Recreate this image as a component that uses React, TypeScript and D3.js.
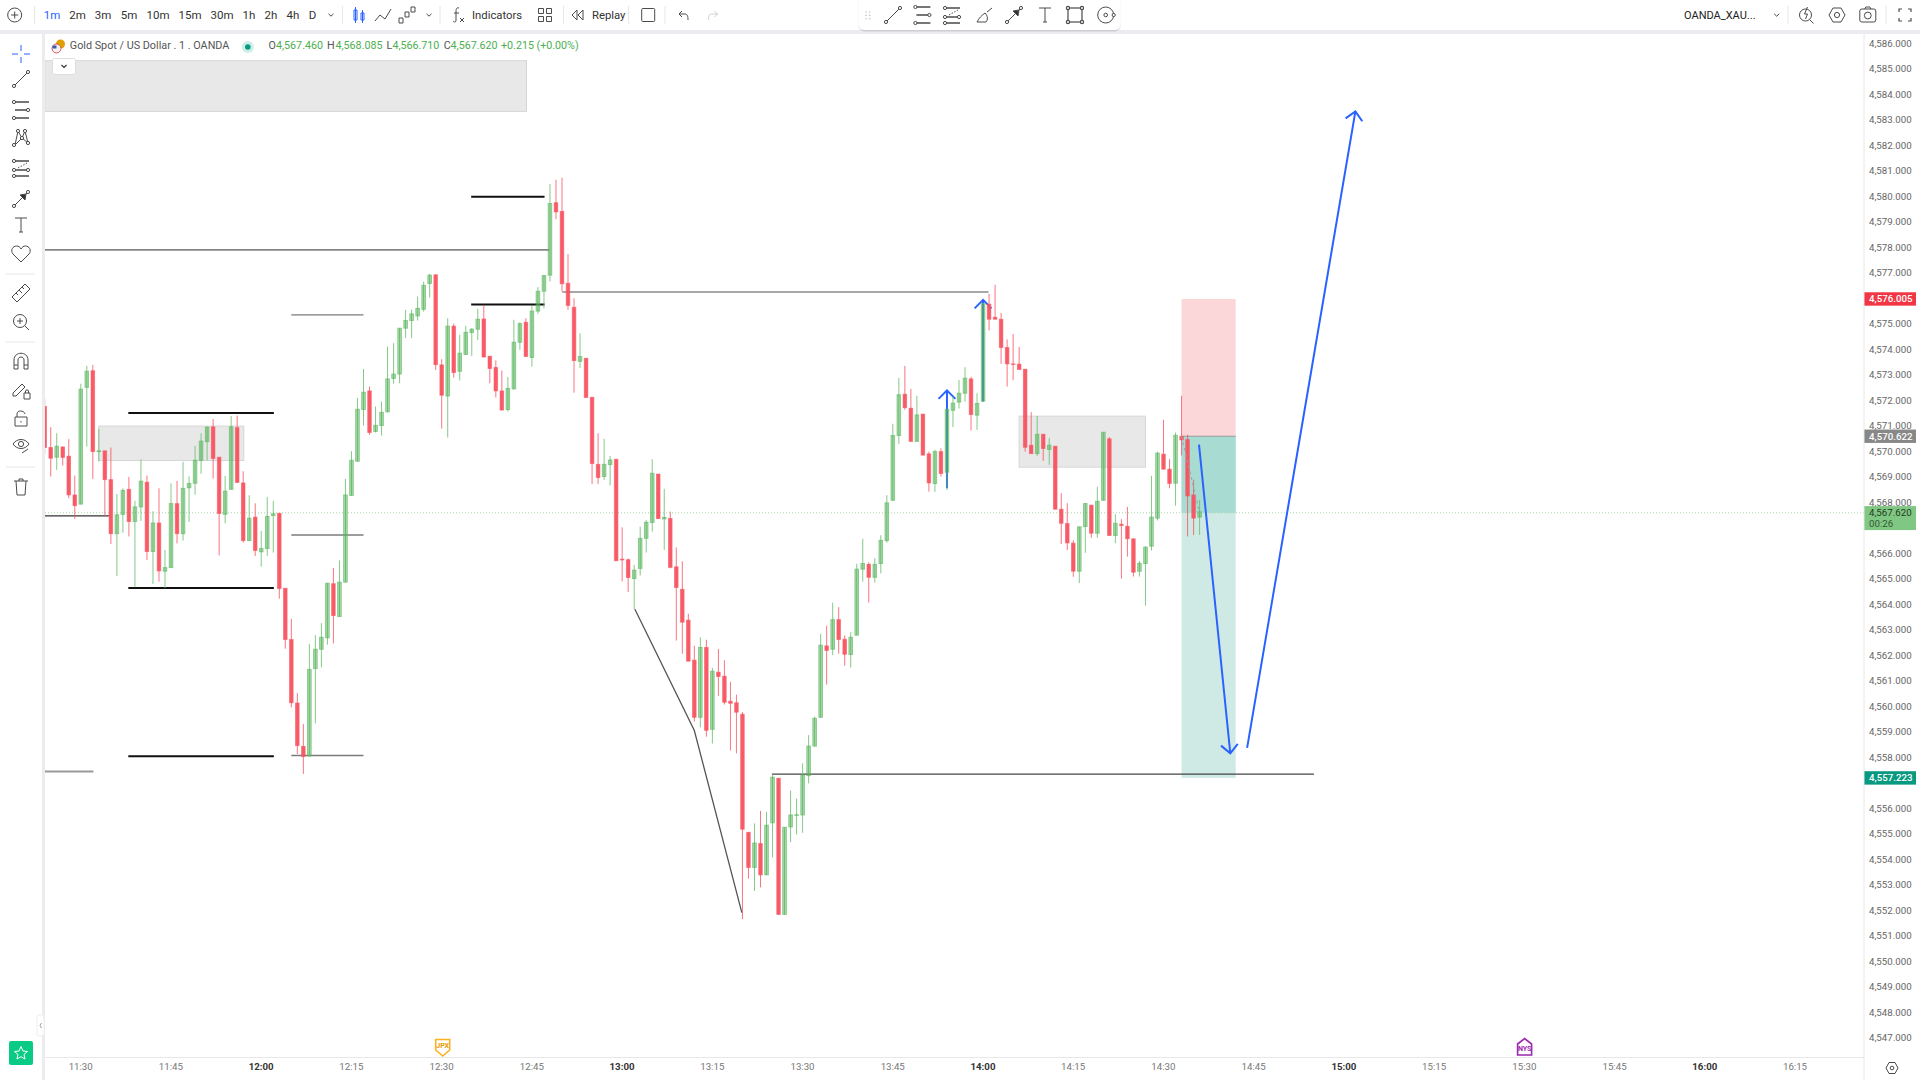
import React, { useEffect, useRef } from 'react';
import * as d3 from 'd3';

const WIDTH = 1920;
const HEIGHT = 1080;

// candles are one minute each, the first one is 11:24
const START_MINUTE = 11 * 60 + 24;

const opens = [
  4571.75, 4570.14, 4569.76, 4570.16, 4569.80, 4568.28, 4567.92, 4572.50, 4573.15, 4569.98,
  4570.01, 4568.88, 4566.76, 4567.52, 4568.50, 4567.24, 4567.81, 4568.78, 4566.06, 4567.18,
  4565.29, 4565.43, 4567.94, 4566.76, 4568.56, 4568.74, 4569.63, 4570.37, 4570.95, 4569.76,
  4567.52, 4568.50, 4570.92, 4568.75, 4566.49, 4567.41, 4566.05, 4566.18, 4567.47, 4567.56,
  4564.62, 4562.61, 4560.12, 4558.42, 4558.04, 4561.47, 4562.23, 4562.68, 4564.80, 4563.51,
  4564.86, 4568.26, 4569.60, 4571.63, 4572.36, 4570.77, 4571.00, 4571.54, 4572.85, 4573.02,
  4574.82, 4575.12, 4575.30, 4575.56, 4576.57, 4576.91, 4573.38, 4572.16, 4574.90, 4573.13,
  4573.79, 4574.65, 4574.78, 4575.18, 4573.72, 4573.28, 4572.36, 4571.63, 4572.44, 4574.27,
  4575.05, 4573.67, 4575.49, 4576.27, 4576.90, 4579.74, 4579.40, 4576.58, 4575.64, 4573.52,
  4573.64, 4572.11, 4569.48, 4569.00, 4569.47, 4569.68, 4565.76, 4565.74, 4565.00, 4565.40,
  4566.58, 4567.20, 4569.10, 4567.34, 4567.36, 4565.46, 4564.58, 4563.37, 4561.80, 4559.56,
  4562.30, 4559.09, 4561.33, 4561.17, 4560.19, 4560.13, 4559.68, 4555.05, 4553.67, 4554.61,
  4553.38, 4555.42, 4557.17, 4551.83, 4555.26, 4555.72, 4555.73, 4557.27, 4558.43, 4559.56,
  4562.36, 4562.23, 4563.39, 4562.62, 4562.02, 4562.78, 4565.37, 4565.56, 4565.05, 4565.59,
  4566.49, 4568.07, 4570.61, 4572.23, 4571.68, 4570.38, 4571.45, 4569.89, 4568.73, 4569.98,
  4569.17, 4571.60, 4571.92, 4572.27, 4572.83, 4571.41, 4571.96, 4575.76, 4575.25, 4575.17,
  4574.06, 4573.42, 4573.41, 4573.21, 4570.23, 4569.90, 4570.66, 4570.06, 4570.19, 4567.72,
  4567.16, 4566.39, 4565.29, 4567.04, 4567.88, 4566.78, 4568.07, 4570.48, 4566.69, 4567.13,
  4567.05, 4566.56, 4565.29, 4565.59, 4566.27, 4567.37, 4569.88, 4569.29, 4568.74, 4570.58,
  4570.45, 4568.28, 4567.41,
];

const highs = [
  4572.05, 4570.94, 4570.70, 4570.19, 4570.47, 4569.04, 4572.64, 4573.34, 4573.38, 4570.87,
  4570.01, 4570.14, 4568.32, 4568.54, 4568.99, 4568.05, 4569.68, 4569.04, 4567.64, 4568.54,
  4566.12, 4568.74, 4568.83, 4569.58, 4569.01, 4570.20, 4570.70, 4570.96, 4571.26, 4569.76,
  4569.03, 4571.38, 4571.39, 4569.21, 4568.27, 4567.95, 4566.87, 4568.20, 4568.05, 4567.56,
  4564.62, 4563.42, 4560.51, 4559.30, 4562.44, 4562.78, 4563.25, 4564.82, 4565.42, 4565.71,
  4568.91, 4570.00, 4572.09, 4573.22, 4572.53, 4571.75, 4571.94, 4574.10, 4574.23, 4574.82,
  4575.54, 4575.55, 4576.06, 4576.64, 4576.95, 4576.94, 4573.60, 4575.21, 4575.00, 4574.56,
  4574.91, 4574.82, 4575.58, 4575.73, 4573.72, 4573.56, 4573.16, 4572.90, 4575.15, 4575.05,
  4575.21, 4575.69, 4576.43, 4576.91, 4580.47, 4580.64, 4580.72, 4577.73, 4575.99, 4574.62,
  4573.64, 4572.11, 4570.70, 4570.48, 4569.81, 4569.68, 4567.01, 4565.79, 4565.54, 4567.04,
  4567.30, 4569.68, 4569.10, 4568.52, 4567.63, 4566.22, 4565.68, 4563.62, 4562.36, 4562.70,
  4562.60, 4561.50, 4562.24, 4561.80, 4560.95, 4560.45, 4559.76, 4555.05, 4555.40, 4555.89,
  4555.85, 4557.33, 4557.17, 4555.25, 4556.69, 4556.37, 4557.76, 4558.86, 4559.59, 4562.83,
  4563.15, 4564.06, 4563.88, 4562.77, 4562.90, 4565.58, 4566.56, 4565.64, 4565.80, 4566.70,
  4568.27, 4571.07, 4572.87, 4573.34, 4572.44, 4572.17, 4571.45, 4569.98, 4570.05, 4570.11,
  4571.64, 4572.14, 4572.79, 4573.29, 4572.91, 4572.27, 4575.80, 4576.17, 4576.52, 4575.42,
  4574.38, 4574.59, 4574.08, 4573.21, 4571.53, 4571.37, 4570.66, 4570.51, 4570.19, 4568.35,
  4567.96, 4566.50, 4567.03, 4567.96, 4567.88, 4568.60, 4570.74, 4570.55, 4567.52, 4567.33,
  4567.81, 4566.56, 4565.69, 4566.24, 4569.03, 4569.98, 4571.23, 4569.68, 4570.73, 4572.17,
  4570.64, 4568.87, 4568.085,
];

const lows = [
  4569.88, 4569.00, 4569.26, 4569.43, 4568.15, 4567.34, 4567.92, 4570.18, 4568.90, 4569.59,
  4567.46, 4566.36, 4565.10, 4566.80, 4566.65, 4564.66, 4567.26, 4565.73, 4564.79, 4564.88,
  4564.62, 4565.43, 4566.38, 4566.49, 4567.22, 4568.29, 4569.11, 4569.63, 4568.92, 4565.91,
  4567.17, 4568.50, 4568.77, 4566.41, 4566.49, 4565.89, 4565.47, 4565.89, 4566.02, 4564.21,
  4562.25, 4559.95, 4558.12, 4557.34, 4558.04, 4559.32, 4561.52, 4562.41, 4562.46, 4563.51,
  4564.86, 4568.26, 4569.60, 4571.00, 4570.64, 4570.73, 4570.61, 4571.51, 4572.64, 4572.66,
  4574.43, 4574.43, 4575.12, 4575.47, 4576.02, 4573.18, 4570.88, 4570.53, 4572.88, 4572.77,
  4573.79, 4573.73, 4574.36, 4573.67, 4572.66, 4572.10, 4571.59, 4571.55, 4572.41, 4573.97,
  4573.71, 4573.31, 4575.38, 4575.60, 4576.65, 4579.09, 4576.26, 4575.54, 4572.29, 4573.26,
  4572.10, 4568.71, 4568.71, 4568.87, 4568.65, 4565.70, 4564.89, 4564.47, 4563.81, 4565.12,
  4566.02, 4566.84, 4567.35, 4566.12, 4565.40, 4562.57, 4562.05, 4561.76, 4559.39, 4559.17,
  4558.80, 4558.53, 4560.40, 4560.06, 4558.26, 4558.15, 4551.64, 4553.23, 4552.75, 4552.89,
  4553.38, 4554.06, 4551.83, 4551.83, 4554.66, 4554.96, 4555.03, 4556.97, 4558.43, 4559.56,
  4560.84, 4562.00, 4562.06, 4561.58, 4561.51, 4562.78, 4564.88, 4564.06, 4564.84, 4565.20,
  4566.41, 4568.07, 4570.28, 4571.62, 4570.38, 4570.38, 4569.84, 4568.41, 4568.40, 4569.00,
  4568.48, 4570.94, 4571.67, 4571.94, 4570.81, 4570.83, 4571.94, 4574.73, 4575.17, 4573.42,
  4572.53, 4572.78, 4573.20, 4569.98, 4569.90, 4569.81, 4569.62, 4569.46, 4567.72, 4566.36,
  4566.12, 4565.07, 4564.82, 4566.01, 4566.60, 4566.60, 4568.07, 4566.69, 4566.39, 4565.00,
  4565.86, 4565.08, 4565.08, 4563.94, 4566.10, 4567.28, 4569.29, 4568.54, 4567.86, 4569.83,
  4566.65, 4566.71, 4566.71,
];

const closes = [
  4570.14, 4569.72, 4570.19, 4569.75, 4568.28, 4567.86, 4572.43, 4573.13, 4569.98, 4570.01,
  4568.88, 4566.76, 4567.50, 4568.46, 4567.24, 4567.81, 4568.82, 4566.06, 4567.18, 4565.30,
  4565.43, 4567.94, 4566.76, 4568.54, 4568.73, 4569.64, 4570.39, 4570.94, 4569.71, 4567.55,
  4568.43, 4570.95, 4568.77, 4566.49, 4567.37, 4566.10, 4566.18, 4567.44, 4567.54, 4564.61,
  4562.61, 4560.13, 4558.45, 4558.02, 4561.44, 4562.23, 4562.70, 4564.82, 4563.55, 4564.86,
  4568.28, 4569.64, 4571.64, 4572.31, 4570.73, 4571.01, 4571.52, 4572.83, 4573.02, 4574.82,
  4575.12, 4575.38, 4575.60, 4576.50, 4576.90, 4573.39, 4572.19, 4574.90, 4573.08, 4573.84,
  4574.66, 4574.78, 4575.17, 4573.69, 4573.24, 4572.36, 4571.61, 4572.46, 4574.27, 4575.00,
  4573.71, 4575.49, 4576.27, 4576.88, 4579.71, 4579.38, 4576.56, 4575.71, 4573.55, 4573.71,
  4572.10, 4569.51, 4568.96, 4569.48, 4569.65, 4565.70, 4565.73, 4565.04, 4565.33, 4566.58,
  4567.21, 4569.13, 4567.35, 4567.40, 4565.44, 4564.65, 4563.29, 4561.76, 4559.56, 4562.30,
  4559.05, 4561.37, 4561.16, 4560.15, 4560.11, 4559.76, 4555.17, 4553.67, 4554.63, 4553.38,
  4555.33, 4557.21, 4551.83, 4555.25, 4555.73, 4555.74, 4557.29, 4558.43, 4559.52, 4562.39,
  4562.18, 4563.39, 4562.61, 4562.03, 4562.70, 4565.37, 4565.59, 4565.05, 4565.56, 4566.50,
  4567.97, 4570.61, 4572.21, 4571.70, 4570.38, 4571.42, 4569.84, 4568.75, 4569.98, 4569.12,
  4571.64, 4571.88, 4572.27, 4572.86, 4571.43, 4571.87, 4575.78, 4575.17, 4575.17, 4574.06,
  4573.42, 4573.40, 4573.20, 4570.15, 4569.90, 4570.66, 4570.10, 4570.23, 4567.72, 4567.17,
  4566.40, 4565.29, 4567.03, 4567.94, 4566.78, 4568.03, 4570.74, 4566.69, 4567.17, 4567.08,
  4566.56, 4565.25, 4565.60, 4566.24, 4567.41, 4569.92, 4569.29, 4568.73, 4570.62, 4570.44,
  4568.24, 4567.37, 4567.62,
];

// 4,557 and 4,567 sit behind the price badges, so they are left out
const priceTicks = d3.range(4547, 4587).filter((p) => p !== 4557 && p !== 4567);
const timeTicks = [
  '11:30', '11:45', '12:00', '12:15', '12:30', '12:45', '13:00', '13:15', '13:30', '13:45',
  '14:00', '14:15', '14:30', '14:45', '15:00', '15:15', '15:30', '15:45', '16:00', '16:15',
];

const intervals = ['1m', '2m', '3m', '5m', '10m', '15m', '30m', '1h', '2h', '4h', 'D'];

// current price, and the long position tool: stop, entry, target
const lastPrice = 4567.62;
const stopPrice = 4576.005;
const entryPrice = 4570.622;
const targetPrice = 4557.223;

// drawings: candle index from / to, price
const blackLevels = [
  [13.9, 38.1, 4571.49],
  [13.9, 38.1, 4564.63],
  [13.9, 38.1, 4558.03],
  [70.9, 83.1, 4579.97],
  [70.9, 83.1, 4575.75],
];
const greyLevels = [
  [0, 8.1, 4557.43, '#9a9a9a', 2],
  [0, 10.8, 4567.46, '#333333', 1.2],
  [41, 53, 4566.71, '#7b7b7b', 1.4],
  [41, 53, 4558.06, '#7b7b7b', 1.4],
  [41, 53, 4575.34, '#7b7b7b', 1.4],
  [0, 83.9, 4577.89, '#858585', 1.6],
  [86.05, 156.9, 4576.24, '#8a8a8a', 1.6],
  [120.9, 211, 4557.33, '#444444', 1.4],
];
const greyZones = [
  [0, 80.1, 4585.31, 4583.32],
  [9, 33.1, 4570.98, 4569.63],
  [162, 183, 4571.37, 4569.37],
];
const swingLine = [
  [98.1, 4563.81],
  [108, 4559.04],
  [115.9, 4551.9],
];
const smallArrows = [
  [150, 4568.54, 150, 4572.38],
  [156, 4571.94, 156, 4575.93],
];
const bigArrows = [
  [191.9, 4570.25, 197.1, 4558.15],
  [199.9, 4558.36, 217.9, 4583.32],
];
const positionFrom = 189;
const positionTo = 198;

const GREEN = '#4caf50';
const RED = '#f7525f';
const BLUE = '#2962ff';
const ICON = '#4a4a4a';

const x = d3.scaleLinear().domain([0, 192]).range([44.7, 1199.6]);
const y = d3.scaleLinear().domain([4586, 4547]).range([44.1, 1038.6]);
const yr = (p: number) => y(p + 0.04);

const toIndex = (t: string) => {
  const [h, m] = t.split(':').map(Number);
  return h * 60 + m - START_MINUTE;
};

const Chart = () => {
  const ref = useRef<SVGGElement | null>(null);

  useEffect(() => {
    if (!ref.current) return;
    const root = d3.select(ref.current);
    root.selectAll('*').remove();

    const defs = root.append('defs');
    defs
      .append('clipPath')
      .attr('id', 'pane')
      .append('rect')
      .attr('x', 45)
      .attr('y', 34)
      .attr('width', 1819)
      .attr('height', 1023);

    const pane = root.append('g').attr('clip-path', 'url(#pane)');

    // grey zones
    pane
      .selectAll('.zone')
      .data(greyZones)
      .enter()
      .append('rect')
      .attr('x', (d) => x(d[0]))
      .attr('y', (d) => yr(d[2]))
      .attr('width', (d) => x(d[1]) - x(d[0]))
      .attr('height', (d) => yr(d[3]) - yr(d[2]))
      .attr('fill', '#e8e8e8')
      .attr('stroke', '#d6d6d6')
      .attr('stroke-width', 1);

    // position tool
    const px0 = x(positionFrom);
    const pw = x(positionTo) - px0;
    pane.append('rect').attr('x', px0).attr('y', y(stopPrice)).attr('width', pw)
      .attr('height', y(entryPrice) - y(stopPrice)).attr('fill', '#fbd7da');
    pane.append('rect').attr('x', px0).attr('y', y(entryPrice)).attr('width', pw)
      .attr('height', y(targetPrice) - y(entryPrice)).attr('fill', '#cfeae5');
    pane.append('rect').attr('x', px0).attr('y', y(entryPrice)).attr('width', pw)
      .attr('height', y(lastPrice) - y(entryPrice)).attr('fill', '#a8dbd2');
    pane.append('line').attr('x1', px0).attr('x2', px0 + pw).attr('y1', y(entryPrice)).attr('y2', y(entryPrice))
      .attr('stroke', '#9a9a9a').attr('stroke-width', 1);

    // last price line
    pane.append('line').attr('x1', 45).attr('x2', 1864).attr('y1', y(lastPrice)).attr('y2', y(lastPrice))
      .attr('stroke', '#a5d6a7').attr('stroke-width', 1).attr('stroke-dasharray', '1 2');

    // horizontal levels
    pane
      .selectAll('.grey-level')
      .data(greyLevels)
      .enter()
      .append('line')
      .attr('x1', (d) => x(d[0] as number))
      .attr('x2', (d) => x(d[1] as number))
      .attr('y1', (d) => yr(d[2] as number))
      .attr('y2', (d) => yr(d[2] as number))
      .attr('stroke', (d) => d[3] as string)
      .attr('stroke-width', (d) => d[4] as number);
    pane
      .selectAll('.black-level')
      .data(blackLevels)
      .enter()
      .append('line')
      .attr('x1', (d) => x(d[0]))
      .attr('x2', (d) => x(d[1]))
      .attr('y1', (d) => yr(d[2]))
      .attr('y2', (d) => yr(d[2]))
      .attr('stroke', '#111111')
      .attr('stroke-width', 2);

    const swing = d3.line<number[]>().x((d) => x(d[0])).y((d) => yr(d[1]));
    pane.append('path').attr('d', swing(swingLine)).attr('fill', 'none')
      .attr('stroke', '#555555').attr('stroke-width', 1.3);

    const drawArrow = (a: number[], sel: d3.Selection<SVGGElement, unknown, null, undefined>) => {
      const x1 = x(a[0]);
      const y1 = yr(a[1]);
      const x2 = x(a[2]);
      const y2 = yr(a[3]);
      const ang = Math.atan2(y2 - y1, x2 - x1);
      const arm = (da: number) => `${x2 - 12 * Math.cos(ang + da)},${y2 - 12 * Math.sin(ang + da)}`;
      sel.append('path')
        .attr('d', `M${x1},${y1}L${x2},${y2}M${arm(0.78)}L${x2},${y2}L${arm(-0.78)}`)
        .attr('fill', 'none')
        .attr('stroke', BLUE)
        .attr('stroke-width', 2);
    };
    smallArrows.forEach((a) => drawArrow(a, pane));

    // candles
    const idx = d3.range(opens.length);
    const candles = pane.selectAll('.candle').data(idx).enter().append('g');
    const isUp = (i: number) => closes[i] >= opens[i];
    candles
      .append('line')
      .attr('x1', (i) => x(i))
      .attr('x2', (i) => x(i))
      .attr('y1', (i) => yr(highs[i]))
      .attr('y2', (i) => yr(lows[i]))
      .attr('stroke', (i) => (isUp(i) ? '#66bb6a' : RED))
      .attr('stroke-opacity', 0.8)
      .attr('stroke-width', 1);
    candles
      .append('rect')
      .attr('x', (i) => x(i) - 1.8)
      .attr('width', 3.6)
      .attr('y', (i) => yr(Math.max(opens[i], closes[i])))
      .attr('height', (i) => Math.max(0.6, Math.abs(yr(opens[i]) - yr(closes[i]))))
      .attr('fill', (i) => (isUp(i) ? GREEN : RED))
      .attr('fill-opacity', (i) => (isUp(i) ? 0.48 : 0.92))
      .attr('stroke', (i) => (isUp(i) ? '#5fb665' : RED))
      .attr('stroke-opacity', (i) => (isUp(i) ? 0.7 : 0.6))
      .attr('stroke-width', 0.9);

    // dashed route of the open trade
    pane.append('line').attr('x1', px0).attr('x2', x(192)).attr('y1', y(entryPrice)).attr('y2', y(lastPrice))
      .attr('stroke', '#9aa5a2').attr('stroke-width', 1).attr('stroke-dasharray', '3 3');

    bigArrows.forEach((a) => drawArrow(a, pane));

    // price axis
    const yAxis = root
      .append('g')
      .attr('transform', 'translate(1864,0)')
      .call(d3.axisRight(y).tickValues(priceTicks).tickSize(0).tickPadding(5).tickFormat(d3.format(',.3f') as any));
    yAxis.select('.domain').remove();
    yAxis
      .selectAll('text')
      .attr('y', -0.8)
      .attr('font-family', 'Roboto')
      .attr('font-size', 9.7)
      .attr('fill', '#666666');

    // time axis
    const xAxis = root
      .append('g')
      .attr('transform', 'translate(-0.6,1057.4)')
      .call(
        d3
          .axisBottom(x)
          .tickValues(timeTicks.map(toIndex))
          .tickSize(0)
          .tickPadding(6)
          .tickFormat((_, i) => timeTicks[i])
      );
    xAxis.select('.domain').remove();
    xAxis
      .selectAll('text')
      .attr('font-family', 'Roboto')
      .attr('font-size', 9.7)
      .attr('font-weight', (_, i) => (timeTicks[i].endsWith(':00') ? 700 : 400))
      .attr('fill', (_, i) => (timeTicks[i].endsWith(':00') ? '#333333' : '#777777'));

    // price badges
    const badges: [number, string, string, string][] = [
      [stopPrice, '#f23645', '#ffffff', d3.format(',.3f')(stopPrice)],
      [entryPrice, '#888888', '#ffffff', d3.format(',.3f')(entryPrice)],
      [targetPrice, '#089981', '#ffffff', d3.format(',.3f')(targetPrice)],
    ];
    badges.forEach(([p, bg, fg, label]) => {
      root.append('rect').attr('x', 1864).attr('y', y(p) - 6.7).attr('width', 52).attr('height', 13.4).attr('fill', bg);
      root.append('text').attr('x', 1869).attr('y', y(p) + 3.4).attr('font-family', 'Roboto').attr('font-size', 9.7)
        .attr('font-weight', 500).attr('fill', fg).text(label);
    });
    root.append('rect').attr('x', 1864).attr('y', y(lastPrice) - 6.7).attr('width', 52).attr('height', 24).attr('fill', '#81c784');
    root.append('text').attr('x', 1869).attr('y', y(lastPrice) + 3.4).attr('font-family', 'Roboto').attr('font-size', 9.7)
      .attr('fill', '#1f3a20').text(d3.format(',.3f')(lastPrice));
    root.append('text').attr('x', 1869).attr('y', y(lastPrice) + 14.4).attr('font-family', 'Roboto').attr('font-size', 9.7)
      .attr('fill', '#2f5a32').text('00:26');
  }, []);

  return <g ref={ref} />;
};

const T = ({ x: tx, y: ty, children, fill = '#333', size = 11.5, anchor = 'start', weight = 400 }: any) => (
  <text x={tx} y={ty} fill={fill} fontSize={size} fontFamily="Roboto" textAnchor={anchor} fontWeight={weight}>
    {children}
  </text>
);

// a stroked icon centred on cx, cy
const I = ({ cx, cy, d, stroke = ICON, w = 1, children }: any) => (
  <g transform={`translate(${cx},${cy})`} fill="none" stroke={stroke} strokeWidth={w}>
    {d && <path d={d} />}
    {children}
  </g>
);

const Dot = ({ cx, cy, r = 1.6 }: any) => <circle cx={cx} cy={cy} r={r} fill="#fff" />;

const LineTool = () => (
  <>
    <path d="M-6 6L6 -6" />
    <Dot cx={-7} cy={7} />
    <Dot cx={7} cy={-7} />
  </>
);
const ChannelTool = () => (
  <>
    <path d="M-8 -8H8M-6 0H6M-6 8H8" strokeWidth={1.4} />
    <Dot cx={-7} cy={-8} />
    <Dot cx={7} cy={0} />
    <Dot cx={-7} cy={8} />
  </>
);
const FibTool = () => (
  <>
    <path d="M-6 -7H8M-6 2H6M-6 8H8" strokeWidth={1.4} />
    <path d="M-3 0L6 -5" strokeDasharray="1.5 1.5" />
    <Dot cx={-7} cy={-7} />
    <Dot cx={-7} cy={2} />
    <Dot cx={7} cy={2} />
    <Dot cx={-7} cy={8} />
  </>
);
const ArrowTool = () => (
  <>
    <path d="M-6 6L6 -6" />
    <path d="M-1 -4L5 -5L4 1Z" fill="#333" />
    <Dot cx={-7} cy={7} />
    <Dot cx={7} cy={-7} />
  </>
);
const TextTool = () => <path d="M-6 -7H6M0 -7V7M-2 7H2" />;

const Toolbar = () => (
  <g>
    <rect x={0} y={0} width={WIDTH} height={30} fill="#fff" />
    <rect x={0} y={30} width={WIDTH} height={4} fill="#ebebf0" />
    <rect x={42} y={34} width={3} height={1046} fill="#ebebf0" />

    <I cx={14.7} cy={15}>
      <circle r={7} />
      <path d="M-3.5 0H3.5M0 -3.5V3.5" />
    </I>
    {[34.7, 342.4, 440, 563.5, 628.6, 665, 1788, 1886].map((v) => (
      <line key={v} x1={v} x2={v} y1={6} y2={24} stroke="#e6e6e6" />
    ))}
    {intervals.map((t, i) => (
      <T
        key={t}
        x={[52, 77.5, 103, 129, 158, 190, 222, 249, 271, 293, 312.6][i]}
        y={18.5}
        anchor="middle"
        fill={i === 0 ? BLUE : '#333'}
      >
        {t}
      </T>
    ))}
    <I cx={331} cy={15} d="M-2.5 -1.2L0 1.2L2.5 -1.2" />
    <I cx={359} cy={15} stroke={BLUE} d="M-3.5 -8V8M3.5 -5V8M-5 -5H-2V5H-5ZM2 -2H5V5H2Z" />
    <I cx={383} cy={15} d="M-8 6L-3 0L2 4L8 -6" />
    <I cx={407} cy={15} d="M-8 3H-4V8H-8ZM-2 -3H2V2H-2ZM4 -8H8V-3H4Z" />
    <I cx={429} cy={15} d="M-2.5 -1.2L0 1.2L2.5 -1.2" />
    <I cx={458} cy={15} d="M1 -7C-2 -8 -2 -5 -2 -3V5C-2 8 -4 7 -5 6M-4 -2H1M2 3L6 7M6 3L2 7" />
    <T x={472} y={18.5} size={11.3}>Indicators</T>
    <I cx={545} cy={15} d="M-6.5 -6.5H-1.5V-1.5H-6.5ZM1.5 -6.5H6.5V-1.5H1.5ZM-6.5 1.5H-1.5V6.5H-6.5ZM1.5 1.5H6.5V6.5H1.5Z" />
    <I cx={578} cy={15} d="M-1 -5L-6 0L-1 5V-5ZM5 -5L0 0L5 5V-5Z" />
    <T x={592} y={18.5} size={11.3}>Replay</T>
    <I cx={647.7} cy={15}>
      <rect x={-6} y={-6.5} width={13} height={13} rx={1} />
    </I>
    <I cx={683} cy={15} d="M-4 -1L-1 -4M-4 -1L-1 2M-4 -1H2C4.5 -1 5 1.5 5 5" />
    <I cx={713.5} cy={15} stroke="#cfcfcf" d="M4 -1L1 -4M4 -1L1 2M4 -1H-2C-4.5 -1 -5 1.5 -5 5" />

    {/* floating drawing bar */}
    <rect x={858.4} y={-6} width={262.4} height={36} rx={6} fill="#000" opacity={0.12} transform="translate(0,1.5)" />
    <rect x={858.4} y={-6} width={262.4} height={36} rx={6} fill="#fff" />
    {d3.range(3).map((r) =>
      [0, 1].map((c) => <circle key={`${r}${c}`} cx={866 + c * 3.6} cy={12 + r * 3.4} r={0.8} fill="#c4c4c4" />)
    )}
    <I cx={893} cy={15}><LineTool /></I>
    <I cx={922.4} cy={15}><ChannelTool /></I>
    <I cx={952} cy={15}><FibTool /></I>
    <I cx={985} cy={15} d="M-8 7H1C3 5 3 1 0 -2C-3 0 -6 3 -8 7ZM2 -3L7 -7" />
    <I cx={1014} cy={15}><ArrowTool /></I>
    <I cx={1045} cy={15}><TextTool /></I>
    <I cx={1075} cy={15} w={1.2}>
      <rect x={-7} y={-7} width={14} height={14} />
      <Dot cx={-7} cy={-7} />
      <Dot cx={7} cy={-7} />
      <Dot cx={-7} cy={7} />
      <Dot cx={7} cy={7} />
    </I>
    <I cx={1105.7} cy={15}>
      <circle r={8} />
      <circle r={1.8} />
      <Dot cx={8} cy={0} />
    </I>

    <T x={1684} y={18.5} size={11} fill="#222">OANDA_XAU...</T>
    <I cx={1776.7} cy={15} d="M-2.5 -1.2L0 1.2L2.5 -1.2" />
    <I cx={1806.5} cy={15}>
      <circle cx={-1} cy={0} r={6} />
      <path d="M3.5 5L7 8.5M1 -8L-2 -1H1L-1 4" />
    </I>
    <I cx={1837} cy={15}>
      <path d="M-4 -7H4L8 0L4 7H-4L-8 0Z" />
      <circle r={2.6} />
    </I>
    <I cx={1867.8} cy={15}>
      <rect x={-8} y={-6} width={16} height={13} rx={2} />
      <circle cy={0.5} r={3.4} />
      <path d="M-3 -6L-2 -8H2L3 -6" />
    </I>
    <I cx={1905} cy={15} w={1.2} d="M-6 -3V-6H-3M3 -6H6V-3M6 3V6H3M-3 6H-6V3" />
  </g>
);

const SideBar = () => (
  <g>
    <I cx={21} cy={54} stroke={BLUE} d="M0 -9V-3M0 3V9M-9 0H-3M3 0H9" />
    <I cx={21} cy={79}><LineTool /></I>
    <I cx={21} cy={110}><ChannelTool /></I>
    <I cx={21} cy={138}>
      <path d="M-6 7L-3 -7L1 0L4 -7L7 5M-6 7L1 0L7 5" />
      <Dot cx={-7} cy={7} />
      <Dot cx={-3} cy={-7} />
      <Dot cx={1} cy={0} />
      <Dot cx={4} cy={-7} />
      <Dot cx={7} cy={5} />
    </I>
    <I cx={21} cy={168}><FibTool /></I>
    <I cx={21} cy={199}><ArrowTool /></I>
    <I cx={21} cy={225}><TextTool /></I>
    <I cx={21} cy={254} d="M0 8L-8 0C-11 -4 -8 -8 -4.5 -8C-2.5 -8 -1 -7 0 -5C1 -7 2.5 -8 4.5 -8C8 -8 11 -4 8 0Z" />
    <line x1={6} x2={35} y1={274} y2={274} stroke="#e6e6e6" />
    <I cx={21} cy={293} d="M-9 4L4 -9L9 -4L-4 9ZM-5 0L-3 2M-2 -3L1 0M1 -6L3 -4" />
    <I cx={21} cy={322}>
      <circle cx={-1} cy={-1} r={6.5} />
      <path d="M4 4L8 8M-4 -1H2M-1 -4V2" />
    </I>
    <line x1={6} x2={35} y1={342} y2={342} stroke="#e6e6e6" />
    <I cx={21} cy={361} d="M-7 8V-1C-7 -10 7 -10 7 -1V8H3V-1C3 -5 -3 -5 -3 -1V8ZM-7 4H-3M3 4H7" />
    <I cx={21} cy={390} d="M-8 3L1 -6L4 -3L-5 6L-8 6ZM3 3H9V9H3ZM4.5 3V1C4.5 -0.5 7.5 -0.5 7.5 1V3" />
    <I cx={21} cy={418} d="M-6 -1H6V8H-6ZM-4 -1V-4C-4 -8 3 -8 4 -4M0 3V4.5" />
    <I cx={21} cy={445}>
      <path d="M-8 -1C-4 -7 4 -7 8 -1C4 5 -4 5 -8 -1Z" />
      <circle cy={-1} r={2.6} />
      <path d="M1 8L7 4" />
    </I>
    <line x1={6} x2={35} y1={467} y2={467} stroke="#e6e6e6" />
    <I cx={21} cy={487} d="M-7 -6H7M-5 -6L-4 8H4L5 -6M-2 -6V-8H2V-6" />

    <rect x={9} y={1041} width={24} height={24} rx={2} fill="#0acb85" />
    <path
      d="M21 1046.5L23 1051L27.5 1051.5L24 1054.5L25 1059L21 1056.7L17 1059L18 1054.5L14.5 1051.5L19 1051Z"
      fill="none"
      stroke="#fff"
    />
    <rect x={37} y={1015} width={7} height={21} rx={2} fill="#fff" stroke="#eeeeee" />
    <path d="M41.5 1023L40 1025.5L41.5 1028" fill="none" stroke="#999" />
  </g>
);

const Header = () => (
  <g>
    <circle cx={60.5} cy={44} r={4.5} fill="#e0a000" />
    <circle cx={56.5} cy={48.5} r={4.5} fill="#f3f3f3" stroke="#d8323c" strokeWidth={0.8} />
    <rect x={52.5} y={45.5} width={4} height={3} fill="#3a5bb0" />
    <T x={69.8} y={49} size={10.8} fill="#555">Gold Spot / US Dollar . 1 . OANDA</T>
    <circle cx={247.8} cy={47} r={6} fill="#cdeee6" />
    <circle cx={247.8} cy={47} r={2.8} fill="#089981" />
    <T x={268.6} y={49} size={10.7} fill="#555">O</T>
    <T x={276} y={49} size={10.7} fill={GREEN}>4,567.460</T>
    <T x={327} y={49} size={10.7} fill="#555">H</T>
    <T x={335.5} y={49} size={10.7} fill={GREEN}>4,568.085</T>
    <T x={386.5} y={49} size={10.7} fill="#555">L</T>
    <T x={392.4} y={49} size={10.7} fill={GREEN}>4,566.710</T>
    <T x={443.7} y={49} size={10.7} fill="#555">C</T>
    <T x={450.6} y={49} size={10.7} fill={GREEN}>4,567.620</T>
    <T x={501} y={49} size={10.7} fill={GREEN}>+0.215 (+0.00%)</T>
    <rect x={52.5} y={58.5} width={23} height={16} rx={2} fill="#fff" stroke="#dddddd" />
    <path d="M61.5 65L64 67.5L66.5 65" fill="none" stroke="#333" strokeWidth={1.2} />
  </g>
);

const Bottom = () => (
  <g>
    <line x1={44} x2={1864} y1={1057.5} y2={1057.5} stroke="#e8e8e8" />
    <line x1={1864} x2={1864} y1={34} y2={1080} stroke="#e8e8e8" />
    <g transform="translate(442.7,0)">
      <path d="M-7 1039.5H7V1050L0 1056L-7 1050Z" fill="#fff" stroke="#ffb01f" strokeWidth={1.6} />
      <T x={0} y={1048} size={7} anchor="middle" fill="#e89a00" weight={700}>JPX</T>
    </g>
    <g transform="translate(1524.6,0)">
      <path d="M-7 1055H7V1044L0 1038.5L-7 1044Z" fill="#fff" stroke="#9c27b0" strokeWidth={1.6} />
      <T x={0} y={1051} size={7} anchor="middle" fill="#9c27b0" weight={700}>NYS</T>
    </g>
    <I cx={1892} cy={1068} w={1}>
      <path d="M-3 -5.5H3L6 0L3 5.5H-3L-6 0Z" />
      <circle r={1.8} />
    </I>
  </g>
);

export default function App() {
  return (
    <svg
      width={WIDTH}
      height={HEIGHT}
      viewBox={`0 0 ${WIDTH} ${HEIGHT}`}
      style={{ position: 'fixed', left: 0, top: 0, display: 'block', background: '#fff' }}
    >
      <Chart />
      <Bottom />
      <Toolbar />
      <SideBar />
      <Header />
    </svg>
  );
}
